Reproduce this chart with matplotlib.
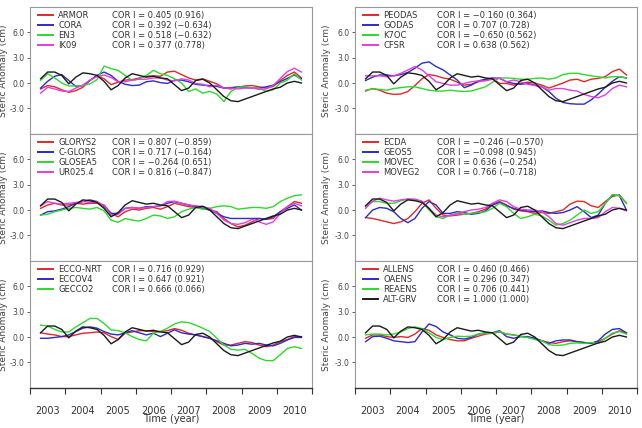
import matplotlib.pyplot as plt
import numpy as np

# time axis (years), one value every ~0.2 yr
years = np.linspace(2003.3, 2010.7, 38)

# observation (black line, in every panel)
alt_grv = [0.5, 1.3, 1.3, 0.9, -0.1, 0.7, 1.2, 1.1, 0.9, 0.2, -0.8, -0.3, 0.6, 1.1, 0.9, 0.7, 0.8, 0.6, 0.5,
           -0.2, -0.9, -0.6, 0.3, 0.45, 0.0, -0.8, -1.6, -2.1, -2.2, -1.9, -1.6, -1.3, -1.0, -0.7, -0.5, 0.0, 0.2, 0.0]

# panel 1 left
armor = [-0.7, -0.3, -0.45, -0.8, -1.1, -0.9, -0.5, 0.3, 0.9, 0.5, -0.2, 0.1, 0.35, 0.4, 0.6, 0.8, 0.85, 0.8, 1.3,
         1.4, 1.0, 0.6, 0.35, 0.5, 0.2, -0.1, -0.6, -0.7, -0.5, -0.35, -0.3, -0.45, -0.6, -0.4, 0.3, 0.9, 1.3, 0.6]
cora = [-0.6, 0.2, 0.8, 1.0, 0.3, -0.4, -0.3, 0.3, 0.9, 1.3, 0.9, 0.2, -0.15, -0.3, -0.25, 0.15, 0.25, 0.05, -0.05,
        0.35, 0.35, 0.15, -0.15, -0.25, -0.3, -0.4, -0.6, -0.55, -0.45, -0.5, -0.6, -0.6, -0.45, -0.25, 0.15, 0.55, 0.95, 0.5]
en3 = [0.3, 1.1, 0.6, 0.0, -0.35, -0.35, -0.3, -0.1, 0.4, 2.0, 1.7, 1.5, 0.9, 0.3, 0.5, 0.9, 1.5, 1.1, 0.9,
       0.5, 0.0, -1.0, -0.7, -1.2, -1.0, -1.3, -2.2, -1.0, -0.5, -0.45, -0.6, -0.6, -1.0, -0.8, 0.0, 0.35, 1.1, 0.35]
ik09 = [-1.2, -0.5, -0.7, -0.95, -1.0, -0.6, -0.25, 0.35, 0.75, 0.95, 0.65, 0.15, 0.15, 0.35, 0.45, 0.45, 0.6, 0.6, 0.35,
        0.25, 0.5, 0.35, -0.05, -0.15, -0.45, -0.25, -0.6, -0.6, -0.7, -0.6, -0.6, -0.75, -0.7, -0.3, 0.55, 1.35, 1.75, 1.3]

# panel 1 right
peodas = [-0.95, -0.65, -0.85, -1.2, -1.35, -1.3, -1.0, -0.3, 0.5, 1.0, 0.85, 0.6, 0.45, 0.1, -0.25, -0.15, 0.15, 0.35, 0.55,
          -0.05, -0.05, -0.25, -0.05, 0.1, 0.0, -0.25, -0.6, -0.3, 0.0, 0.35, 0.45, 0.15, 0.45, 0.55, 0.75, 1.35, 1.65, 0.95]
godas = [0.3, 0.7, 0.95, 0.95, 0.85, 1.0, 1.25, 1.75, 2.35, 2.5, 1.95, 1.55, 0.95, 0.35, -0.55, -0.25, 0.25, 0.45, 0.6,
         0.55, 0.15, -0.05, -0.15, -0.05, -0.25, -0.45, -1.0, -1.8, -2.3, -2.45, -2.5, -2.5, -2.0, -1.3, -0.5, 0.2, 0.75, 0.6]
k7oc = [-0.85, -0.7, -0.75, -0.85, -0.65, -0.55, -0.45, -0.45, -0.65, -0.85, -0.95, -0.95, -0.85, -0.95, -1.0, -0.95, -0.7, -0.45, 0.1,
        0.6, 0.6, 0.55, 0.45, 0.45, 0.55, 0.6, 0.45, 0.6, 1.0, 1.15, 1.15, 1.0, 0.85, 0.75, 0.6, 0.75, 0.75, 0.6]
cfsr = [0.85, 0.85, 0.85, 0.75, 0.85, 1.15, 1.55, 1.95, 1.55, 0.85, 0.15, -0.05, -0.25, -0.25, -0.05, 0.15, 0.25, 0.25, 0.45,
        0.6, 0.15, 0.35, 0.15, -0.15, -0.3, -0.45, -0.85, -0.65, -0.65, -0.85, -0.95, -1.35, -1.6, -1.75, -1.4, -0.65, -0.25, -0.45]

# panel 2 left
glorys2 = [0.2, 0.6, 0.8, 0.6, 0.6, 0.8, 0.7, 0.8, 0.8, 0.6, -0.4, -0.8, -0.2, 0.1, 0.0, 0.2, 0.3, 0.1, 0.4,
           0.8, 0.6, 0.4, 0.3, 0.2, 0.0, -0.2, -1.0, -1.6, -2.0, -1.8, -1.4, -1.0, -1.1, -1.0, -0.2, 0.4, 1.0, 0.8]
c_glors = [-0.6, -0.2, -0.1, 0.1, 0.4, 0.8, 1.0, 1.2, 1.0, 0.4, -0.4, -0.4, 0.2, 0.3, 0.2, 0.4, 0.4, 0.5, 0.8,
           1.0, 0.8, 0.6, 0.4, 0.2, 0.0, -0.4, -0.8, -1.0, -1.0, -1.0, -1.0, -1.0, -1.1, -0.8, -0.2, 0.2, 0.6, 0.0]
glosea5 = [-0.6, -0.5, -0.2, 0.0, 0.2, 0.3, 0.2, 0.1, 0.3, -0.1, -1.2, -1.45, -1.0, -1.2, -1.3, -1.0, -0.6, -0.7, -1.0,
           -0.8, -0.2, 0.1, 0.3, 0.1, 0.2, 0.4, 0.5, 0.4, 0.1, 0.2, 0.3, 0.3, 0.2, 0.4, 1.0, 1.4, 1.7, 1.8]
ur025 = [0.5, 1.0, 0.8, 0.7, 0.8, 0.9, 1.0, 0.9, 1.0, 0.5, -0.6, -0.5, 0.2, 0.3, 0.2, 0.3, 0.4, 0.5, 1.0,
         1.05, 0.8, 0.6, 0.5, 0.4, 0.2, -0.4, -1.2, -1.6, -1.7, -1.5, -1.1, -1.4, -1.7, -1.4, -0.4, 0.4, 0.8, 0.5]

# panel 2 right
ecda = [-0.9, -1.0, -1.2, -1.4, -1.6, -1.4, -1.0, -0.2, 0.8, 1.2, 0.2, -0.6, -0.7, -0.6, -0.5, -0.4, -0.2, 0.1, 0.7,
        1.0, 0.6, 0.1, -0.1, -0.2, -0.4, -0.3, -0.4, -0.2, 0.0, 0.7, 1.05, 1.0, 0.5, 0.3, 1.0, 1.6, 1.8, 0.8]
geos5 = [-0.9, 0.0, 0.3, 0.2, -0.2, -1.0, -1.5, -1.0, 0.2, 1.0, 0.6, -0.4, -0.4, -0.2, -0.3, -0.5, -0.4, -0.1, 0.6,
         0.9, 0.5, 0.2, 0.0, -0.1, -0.2, -0.1, -0.3, -0.4, -0.3, 0.0, 0.4, -0.2, -0.9, -0.6, 0.8, 1.8, 1.7, 0.0]
movec = [0.4, 1.0, 1.0, 0.8, 0.8, 1.1, 1.3, 1.2, 1.0, 0.0, -0.8, -1.0, -0.6, -0.4, -0.5, -0.4, -0.3, -0.2, 0.2,
         0.8, 0.4, -0.4, -1.0, -0.8, -0.5, -0.7, -1.2, -1.8, -1.6, -1.2, -0.6, 0.0, -0.4, -0.2, 0.8, 1.8, 1.7, 0.8]
moveg2 = [0.2, 1.05, 1.4, 1.2, 1.05, 1.2, 1.3, 1.3, 1.05, 0.2, -0.6, -0.8, -0.6, -0.5, -0.2, 0.0, 0.1, 0.3, 0.8,
          1.2, 1.0, 0.4, 0.1, 0.0, 0.0, -0.2, -0.8, -1.6, -1.8, -1.5, -1.2, -1.0, -1.0, -0.9, -0.2, 0.3, 0.2, -0.1]

# panel 3 left
ecco_nrt = [0.5, 0.35, 0.25, 0.05, 0.05, 0.25, 0.45, 0.5, 0.6, 0.5, 0.05, -0.3, 0.45, 0.6, 0.75, 0.75, 0.65, 0.65, 0.75,
            1.0, 0.8, 0.45, 0.25, 0.05, -0.15, -0.55, -0.95, -0.95, -0.75, -0.55, -0.65, -0.95, -1.15, -0.95, -0.55, -0.3, 0.05, 0.05]
eccov4 = [-0.15, -0.15, -0.05, 0.05, 0.25, 0.65, 1.05, 1.2, 1.05, 0.65, 0.35, 0.25, 0.5, 0.75, 0.5, 0.25, 0.45, 0.05, 0.45,
          0.85, 0.5, 0.35, 0.25, 0.05, -0.15, -0.45, -0.75, -1.05, -0.95, -0.75, -0.85, -0.75, -0.95, -1.05, -0.75, -0.35, -0.05, -0.05]
gecco2 = [1.4, 1.3, 0.9, 0.6, 0.6, 1.2, 1.7, 2.2, 2.2, 1.6, 0.85, 0.75, 0.5, 0.05, -0.3, -0.45, 0.45, 0.65, 1.05,
          1.55, 1.8, 1.7, 1.4, 1.05, 0.65, -0.15, -0.95, -1.45, -1.55, -1.45, -1.95, -2.5, -2.8, -2.8, -2.1, -1.35, -1.15, -1.35]

# panel 3 right
allens = [-0.15, 0.25, 0.25, 0.05, -0.05, 0.05, -0.05, 0.35, 1.0, 0.8, 0.25, -0.05, -0.3, -0.45, -0.45, -0.15, 0.1, 0.35, 0.45,
          0.6, 0.35, 0.25, 0.1, -0.05, -0.15, -0.45, -0.65, -0.75, -0.55, -0.45, -0.55, -0.65, -0.75, -0.55, -0.15, 0.35, 0.75, 0.45]
oaens = [-0.55, 0.05, 0.1, -0.15, -0.45, -0.55, -0.65, -0.55, 0.6, 1.55, 1.25, 0.6, 0.25, -0.15, -0.25, -0.05, 0.35, 0.5, 0.5,
         0.75, 0.05, -0.15, 0.05, 0.05, -0.15, -0.45, -0.75, -0.45, -0.35, -0.35, -0.55, -0.65, -0.75, -0.45, 0.35, 0.9, 1.0, 0.5]
reaens = [0.25, 0.35, 0.35, 0.25, 0.35, 0.6, 1.0, 1.2, 1.0, 0.5, -0.05, -0.3, -0.05, 0.1, 0.05, 0.1, 0.35, 0.45, 0.45,
          0.65, 0.35, 0.25, 0.05, -0.05, -0.3, -0.45, -0.9, -1.0, -0.95, -0.75, -0.7, -0.75, -0.65, -0.75, -0.15, 0.45, 0.65, 0.35]

RED = '#e02828'
BLUE = '#2c2cc8'
GREEN = '#2ed82e'
MAGENTA = '#e040e0'
BLACK = '#1a1a1a'

# (row, col, names, correlation text, series)
panels = [
    (0, 0, ['ARMOR', 'CORA', 'EN3', 'IK09'],
     ['0.405 (0.916)', '0.392 (\u22120.634)', '0.518 (\u22120.632)', '0.377 (0.778)'],
     [armor, cora, en3, ik09]),
    (0, 1, ['PEODAS', 'GODAS', 'K7OC', 'CFSR'],
     ['\u22120.160 (0.364)', '0.707 (0.728)', '\u22120.650 (0.562)', '0.638 (0.562)'],
     [peodas, godas, k7oc, cfsr]),
    (1, 0, ['GLORYS2', 'C-GLORS', 'GLOSEA5', 'UR025.4'],
     ['0.807 (\u22120.859)', '0.717 (\u22120.164)', '\u22120.264 (0.651)', '0.816 (\u22120.847)'],
     [glorys2, c_glors, glosea5, ur025]),
    (1, 1, ['ECDA', 'GEOS5', 'MOVEC', 'MOVEG2'],
     ['\u22120.246 (\u22120.570)', '\u22120.098 (0.945)', '0.636 (\u22120.254)', '0.766 (\u22120.718)'],
     [ecda, geos5, movec, moveg2]),
    (2, 0, ['ECCO-NRT', 'ECCOV4', 'GECCO2'],
     ['0.716 (0.929)', '0.647 (0.921)', '0.666 (0.066)'],
     [ecco_nrt, eccov4, gecco2]),
    (2, 1, ['ALLENS', 'OAENS', 'REAENS', 'ALT-GRV'],
     ['0.460 (0.466)', '0.296 (0.347)', '0.706 (0.441)', '1.000 (1.000)'],
     [allens, oaens, reaens]),
]
colors = [RED, BLUE, GREEN, MAGENTA]

fig = plt.figure(figsize=(6.42, 4.28), dpi=100)
W, H = 642, 428
lefts = [30, 355]
tops = [7, 134, 261]
ph = 126.7
pw = 282

for row, col, names, cors, series in panels:
    x0 = lefts[col] / W
    y0 = 1 - (tops[row] + ph) / H
    ax = fig.add_axes([x0, y0, pw / W, ph / H])

    for s, c in zip(series, colors):
        ax.plot(years, s, color=c, lw=1.0)
    ax.plot(years, alt_grv, color=BLACK, lw=1.0)

    # legend block
    leg_colors = colors[:len(series)] + ([BLACK] if len(names) > len(series) else [])
    for i, (nm, cr, c) in enumerate(zip(names, cors, leg_colors)):
        yy = 0.935 - i * 0.079
        ax.plot([0.028, 0.082], [yy, yy], transform=ax.transAxes, color=c, lw=1.4)
        ax.text(0.10, yy, nm, transform=ax.transAxes, fontsize=6, va='center', color='#333333')
        ax.text(0.29, yy, 'COR I = ' + cr, transform=ax.transAxes, fontsize=6, va='center', color='#333333')

    ax.set_xlim(2003, 2011)
    ax.set_ylim(-6, 9)
    ax.set_yticks([-3, 0, 3, 6])
    ax.set_yticklabels(['-3.0', '0.0', '3.0', '6.0'])
    ax.tick_params(axis='y', labelsize=5.5, length=2.5, width=0.6, pad=1.5, colors='#444444')
    ax.set_ylabel('Steric Anomaly (cm)', fontsize=6.5, color='#444444')
    ax.yaxis.set_label_coords(-0.078 if col == 0 else -0.085, 0.5)

    for sp in ax.spines.values():
        sp.set_color('#999999')
        sp.set_linewidth(0.8)

    ax.set_xticks(range(2003, 2012))
    ax.set_xticklabels([])
    if row == 2:
        ax.set_xticks(np.arange(2003.5, 2011, 1.0), minor=True)
        ax.set_xticklabels([str(y) for y in range(2003, 2011)], minor=True)
        ax.tick_params(axis='x', which='major', length=4, width=0.8, colors='#333333')
        ax.tick_params(axis='x', which='minor', length=0, labelsize=7, pad=13, colors='#333333')
        ax.spines['bottom'].set_color('#333333')
        ax.spines['bottom'].set_linewidth(1.0)
        ax.set_xlabel('Time (year)', fontsize=7, labelpad=-1, color='#333333')
    else:
        ax.tick_params(axis='x', which='major', length=0)

fig.savefig('out.png', dpi=100)
